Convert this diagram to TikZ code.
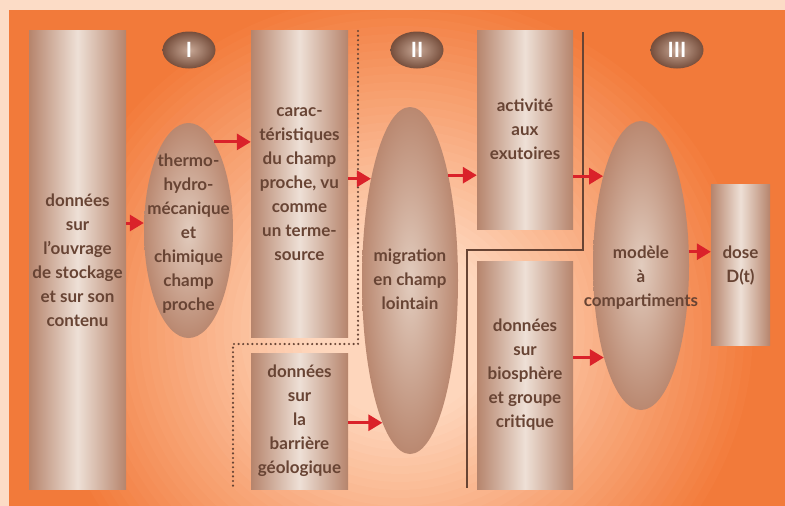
\documentclass[tikz,border=0pt]{standalone}
\usepackage{fontspec}
\setmainfont{Lato}
\usetikzlibrary{arrows.meta,shapes.geometric}
\definecolor{framecol}{RGB}{252,220,198}
\definecolor{bgorange}{RGB}{242,122,58}
\definecolor{bglight}{RGB}{254,214,188}
\definecolor{boxedge}{RGB}{182,132,108}
\definecolor{boxmid}{RGB}{238,224,214}
\definecolor{elledge}{RGB}{186,136,112}
\definecolor{ellmid}{RGB}{226,204,190}
\definecolor{txt}{RGB}{104,68,52}
\definecolor{arrowred}{RGB}{218,34,42}
\definecolor{linebrown}{RGB}{104,68,52}
\definecolor{badgein}{RGB}{200,168,150}
\definecolor{badgeout}{RGB}{118,78,60}
\begin{document}
\begin{tikzpicture}[x=1pt,y=-1pt,
  cyl/.style={rectangle, inner sep=0pt, left color=boxedge, right color=boxedge, middle color=boxmid},
  ell/.style={ellipse, inner sep=0pt, inner color=ellmid, outer color=elledge},
  lbl/.style={text=txt, align=center, inner sep=0pt, font=\bfseries\fontsize{17}{24}\selectfont},
  badgenode/.style={ellipse, inner sep=0pt, minimum width=53pt, minimum height=37pt, inner color=badgein, outer color=badgeout, text=white, font=\bfseries\fontsize{21}{21}\selectfont},
  arr/.style={draw=arrowred, line width=3pt, -{Triangle[length=14pt,width=16pt]}},
  dotline/.style={draw=linebrown, line width=2.4pt, line cap=round, dash pattern=on 0pt off 4.6pt},
  solidline/.style={draw=linebrown, line width=1.5pt}
]
\useasboundingbox (0,0) rectangle (785,506);
\fill[framecol] (0,0) rectangle (785,506);
\begin{scope}
\clip (9,10) rectangle (785,506);
\fill[bgorange] (9,10) rectangle (785,506);
\foreach \r in {344,336,...,0} {
  \pgfmathsetmacro\p{max(0,min(100,(344-\r)/(344-90)*100))}
  \fill[bglight!\p!bgorange] (400,330) ellipse ({\r*1.05} and {\r});
}
\end{scope}

% badges
\node[badgenode] (bI) at (189,50) {I};
\node[badgenode] (bII) at (417,50) {II};
\node[badgenode] (bIII) at (677,50) {III};

% shapes
\node[cyl, minimum width=97pt, minimum height=459pt] (b1) at (77.5,259.5) {};
\node[ell, minimum width=89pt, minimum height=215pt] (e2) at (188.5,230.5) {};
\node[cyl, minimum width=97pt, minimum height=307pt] (b3) at (299.5,183.5) {};
\node[cyl, minimum width=97pt, minimum height=136pt] (b4) at (299.5,421) {};
\node[ell, minimum width=96pt, minimum height=347pt] (e6) at (410,280.5) {};
\node[cyl, minimum width=96pt, minimum height=199pt] (b7) at (525,129.5) {};
\node[cyl, minimum width=96pt, minimum height=228pt] (b9) at (525,375) {};
\node[ell, minimum width=96pt, minimum height=289pt] (e10) at (641,265.5) {};
\node[cyl, minimum width=59pt, minimum height=161pt] (b11) at (740.5,264.5) {};

% texts
\node[lbl] (t1) at (77.5,260) {données\\sur\\l’ouvrage\\de stockage\\et sur son\\contenu};
\node[lbl] (t2) at (188.5,233.5) {thermo-\\hydro-\\mécanique\\et\\chimique\\champ\\proche};
\node[lbl] (t3) at (299.5,184) {carac-\\téristiques\\du champ\\proche, vu\\comme\\un terme-\\source};
\node[lbl] (t4) at (299.5,420.5) {données\\sur\\la\\barrière\\géologique};
\node[lbl] (t6) at (410,279) {migration\\en champ\\lointain};
\node[lbl] (t7) at (525,129) {activité\\aux\\exutoires};
\node[lbl] (t9) at (525,375) {données\\sur\\biosphère\\et groupe\\critique};
\node[lbl] (t10) at (641,278) {modèle\\à\\compartiments};
\node[lbl] (t11) at (740.5,266) {dose\\D(t)};

% separator lines
\coordinate (d1) at (358,31);
\coordinate (d2) at (358,344);
\coordinate (d3) at (233,344);
\coordinate (d4) at (233,486);
\draw[dotline] (d1) -- (d2) -- (d3) -- (d4);
\coordinate (s1) at (583,32);
\coordinate (s2) at (583,250);
\coordinate (s3) at (467,250);
\coordinate (s4) at (467,488);
\draw[solidline] (s1) -- (s2) -- (s3) -- (s4);

% arrows
\draw[arr] (b1.east |- 0,223) -- (e2.west |- 0,223);
\draw[arr] (e2.74) -- (b3.west |- e2.74);
\draw[arr] (b3.east |- e6.111) -- (e6.111);
\draw[arr] (b4.east |- e6.259) -- (e6.259);
\draw[arr] (e6.70) -- (b7.west |- e6.70);
\draw[arr] (b7.east |- e10.113) -- (e10.113);
\draw[arr] (b9.east |- e10.248) -- (e10.248);
\draw[arr] (e10.16) -- (b11.west |- e10.16);
\end{tikzpicture}
\end{document}
